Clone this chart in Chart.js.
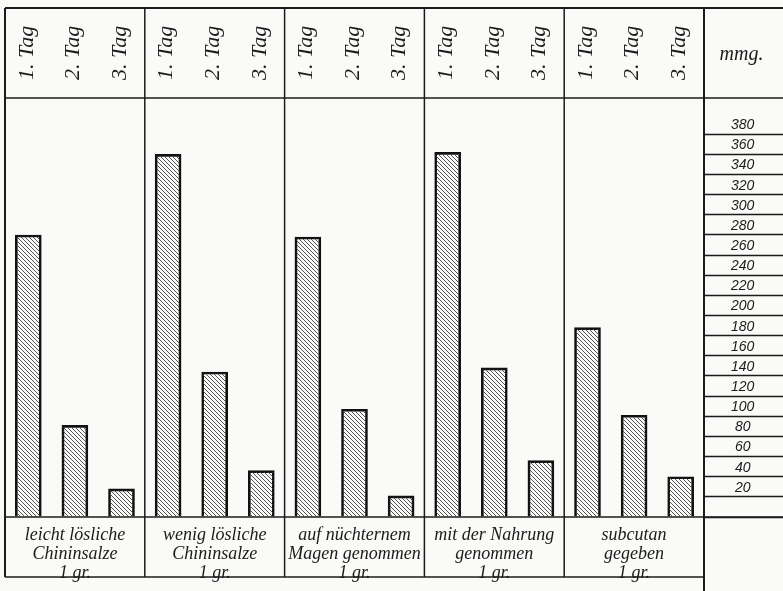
<!DOCTYPE html>
<html>
<head>
<meta charset="utf-8">
<script src="https://cdn.jsdelivr.net/npm/chart.js@4.4.1/dist/chart.umd.min.js"></script>
<style>
  body { margin: 0; background: #fafaf8; }
  #wrap { width: 783px; height: 591px; }
</style>
</head>
<body>
<div id="wrap"><canvas id="myChart"></canvas></div>
<script>
const groupLabels = [
  ['leicht lösliche', 'Chininsalze', '1 gr.'],
  ['wenig lösliche', 'Chininsalze', '1 gr.'],
  ['auf nüchternem', 'Magen genommen', '1 gr.'],
  ['mit der Nahrung', 'genommen', '1 gr.'],
  ['subcutan', 'gegeben', '1 gr.'],
];
const dayLabels = ['1. Tag', '2. Tag', '3. Tag'];
const mmg = [280, 91, 28, 360, 144, 46, 278, 107, 21, 362, 148, 56, 188, 101, 40];
const scaleLabels = [20, 40, 60, 80, 100, 120, 140, 160, 180, 200, 220, 240, 260, 280, 300, 320, 340, 360, 380];
const unitLabel = 'mmg.';

const barLabels = groupLabels.flatMap(() => dayLabels);
const ink = '#1b1b1b';
const FOOT_H = 60;

function hatch() {
  const c = document.createElement('canvas');
  c.width = 4;
  c.height = 4;
  const g = c.getContext('2d');
  g.strokeStyle = '#555';
  g.lineWidth = 1;
  g.beginPath();
  g.moveTo(-1, -1); g.lineTo(5, 5);
  g.moveTo(-1, 3); g.lineTo(1, 5);
  g.moveTo(3, -1); g.lineTo(5, 1);
  g.stroke();
  return g.createPattern(c, 'repeat');
}

// no extra edge padding from the category labels
function fitX(height) {
  return (s) => {
    s.height = height;
    s.paddingLeft = 0;
    s.paddingRight = 0;
  };
}

// table frame round the bars, header and footer
const tablePlugin = {
  id: 'table',
  afterDraw(chart) {
    const { ctx, chartArea: a, scales } = chart;
    const x = scales.x;
    const top = 8, foot = a.bottom + FOOT_H;
    const line = (x1, y1, x2, y2, lw) => {
      ctx.lineWidth = lw;
      ctx.beginPath();
      ctx.moveTo(x1, y1);
      ctx.lineTo(x2, y2);
      ctx.stroke();
    };
    ctx.save();
    ctx.strokeStyle = ink;
    line(a.left, top, chart.width, top, 2.2);
    line(a.left, a.top, chart.width, a.top, 1.6);
    line(a.left, a.bottom, chart.width, a.bottom, 1.6);
    line(a.left, foot, a.right, foot, 1.6);
    line(a.left, top, a.left, foot, 2);
    line(a.right, top, a.right, chart.height, 2);
    for (let g = 1; g < groupLabels.length; g++) {
      const xx = (x.getPixelForValue(g * 3 - 1) + x.getPixelForValue(g * 3)) / 2;
      line(xx, top, xx, foot, 1.5);
    }
    ctx.fillStyle = ink;
    ctx.font = 'italic 20px "Liberation Serif"';
    ctx.textAlign = 'center';
    ctx.textBaseline = 'middle';
    ctx.fillText(unitLabel, (a.right + chart.width) / 2 - 2, (top + a.top) / 2 + 2);
    ctx.restore();
  },
};

const config = {
  type: 'bar',
  data: {
    labels: barLabels,
    datasets: [
      {
        label: 'mmg.',
        data: mmg,
        xAxisID: 'x',
        yAxisID: 'y',
        backgroundColor: hatch(),
        borderColor: '#111',
        borderWidth: 2,
        barThickness: 26,
      },
    ],
  },
  options: {
    responsive: true,
    maintainAspectRatio: false,
    animation: false,
    layout: { padding: { top: 8, left: 5, right: 0, bottom: 0 } },
    plugins: { legend: { display: false }, tooltip: { enabled: false } },
    scales: {
      x: {
        position: 'top',
        offset: true,
        grid: { display: false },
        border: { display: false },
        ticks: {
          minRotation: 90,
          maxRotation: 90,
          autoSkip: false,
          padding: 10,
          labelOffset: 25,
          color: ink,
          font: { family: '"Liberation Serif"', style: 'italic', size: 22 },
        },
        afterFit: fitX(90),
      },
      groups: {
        type: 'category',
        axis: 'x',
        position: 'bottom',
        labels: groupLabels,
        offset: true,
        grid: { display: false },
        border: { display: false },
        ticks: {
          autoSkip: false,
          maxRotation: 0,
          padding: 1,
          color: ink,
          font: { family: '"Liberation Serif"', style: 'italic', size: 18, lineHeight: 1.05 },
        },
        afterFit: fitX(74),
      },
      y: {
        position: 'right',
        min: 0,
        max: 416,
        afterBuildTicks: (s) => {
          s.ticks = s.ticks.filter((t) => t.value === 0 || scaleLabels.includes(t.value));
        },
        ticks: {
          stepSize: 20,
          padding: -52,
          labelOffset: -9,
          crossAlign: 'center',
          color: ink,
          font: { family: '"Liberation Sans"', style: 'italic', size: 14 },
          callback: (v) => (scaleLabels.includes(v) ? v : ''),
        },
        grid: { drawOnChartArea: false, drawTicks: true, tickLength: 79, tickColor: ink, tickWidth: 1.4 },
        border: { display: false },
        afterFit: (s) => { s.width = 79; },
      },
    },
  },
  plugins: [tablePlugin],
};

const myChart = new Chart(document.getElementById('myChart'), config);
</script>
</body>
</html>
